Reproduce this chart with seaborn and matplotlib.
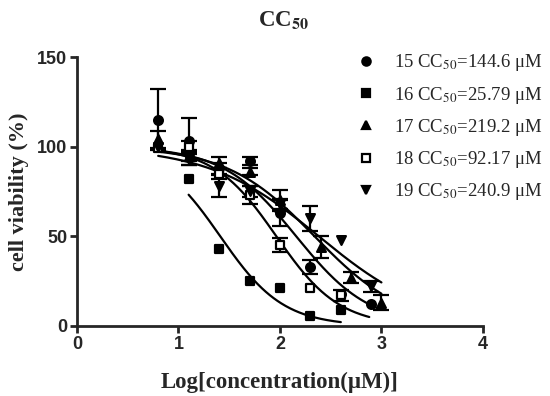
import numpy as np
import pandas as pd
import matplotlib
matplotlib.use("Agg")
import matplotlib.pyplot as plt
import seaborn as sns
from matplotlib.lines import Line2D

# compounds and their CC50 values (uM)
compounds = ['15', '16', '17', '18', '19']
cc50 = [144.6, 25.79, 219.2, 92.17, 240.9]
hill = [1.2, 1.4, 1.0, 1.4, 0.8]
curve_end = [3.0, 2.6, 3.0, 2.88, 3.0]
curve_start = [0.8, 1.1, 0.8, 0.8, 0.8]

# measured points (log conc, viability %, sem; 0 = bar hidden by marker)
x15 = [0.8, 1.1, 1.4, 1.7, 2.0, 2.3, 2.6, 2.9]
y15 = [115, 103, 88, 92, 63, 33, 18, 12.5]
e15 = [17, 13, 3, 2, 7, 4, 0, 0]

x16 = [1.1, 1.4, 1.7, 2.0, 2.3, 2.6]
y16 = [82, 43, 25, 21, 5.5, 9]
e16 = [0, 0, 0, 0, 0, 0]

x17 = [0.8, 1.1, 1.4, 1.7, 2.0, 2.4, 2.7, 3.0]
y17 = [104, 95, 91, 86, 70, 44, 27, 13]
e17 = [5, 3, 3, 2, 6, 6, 3, 4]

x18 = [0.8, 1.1, 1.4, 1.7, 2.0, 2.3, 2.6]
y18 = [99, 100, 85, 73, 45, 21, 17]
e18 = [0, 3, 3, 5, 4, 0, 3]

x19 = [0.8, 1.1, 1.4, 1.7, 2.0, 2.3, 2.6, 2.9]
y19 = [100, 93, 78, 75, 68, 60, 48, 22]
e19 = [0, 3, 6, 3, 3, 7, 0, 3]

xs = [x15, x16, x17, x18, x19]
ys = [y15, y16, y17, y18, y19]
es = [e15, e16, e17, e18, e19]
markers = {'15': 'o', '16': 's', '17': '^', '18': 's', '19': 'v'}
facecol = {'15': 'black', '16': 'black', '17': 'black', '18': 'white', '19': 'black'}

sns.set_style("ticks")
plt.rcParams['mathtext.fontset'] = 'stix'

pts = pd.concat([pd.DataFrame({'compound': c, 'logc': x, 'viab': y, 'err': e})
                 for c, x, y, e in zip(compounds, xs, ys, es)], ignore_index=True)

curves = []
for c, ic, h, a, b in zip(compounds, cc50, hill, curve_start, curve_end):
    xx = np.linspace(a, b, 200)
    yy = 100 / (1 + 10 ** ((xx - np.log10(ic)) * h))
    curves.append(pd.DataFrame({'compound': c, 'logc': xx, 'viab': yy}))
curves = pd.concat(curves, ignore_index=True)

fig = plt.figure(figsize=(5.5, 3.96), dpi=100)
ax = fig.add_axes([0.14, 0.177, 0.738, 0.679])

sns.lineplot(data=curves, x='logc', y='viab', units='compound', estimator=None,
             color='black', lw=1.6, ax=ax, legend=False)

for c in compounds:
    d = pts[pts.compound == c]
    de = d[d.err > 0]
    if len(de):
        ax.errorbar(de.logc, de.viab, yerr=de.err, fmt='none', ecolor='black',
                    elinewidth=1.6, capsize=5.5, capthick=1.6, zorder=3)
    ax.scatter(d.logc, d.viab, marker=markers[c], s=40, facecolor=facecol[c],
               edgecolor='black', linewidth=1.6, zorder=4)

ax.set_xlim(0, 4)
ax.set_ylim(0, 150)
ax.set_xticks([0, 1, 2, 3, 4])
ax.set_yticks([0, 50, 100, 150])
for s in ['left', 'bottom']:
    ax.spines[s].set_linewidth(2)
sns.despine(ax=ax)
ax.tick_params(width=2, length=5, labelsize=13, pad=2)
for lab in ax.get_xticklabels() + ax.get_yticklabels():
    lab.set_fontfamily('Liberation Sans')
    lab.set_fontweight('bold')

ax.set_xlabel('Log[concentration(μM)]', family='Liberation Serif', weight='bold',
              fontsize=16.5, labelpad=14)
ax.set_ylabel('cell viability (%)', family='Liberation Serif', weight='bold',
              fontsize=16, labelpad=6)
fig.text(0.515, 0.95, r'CC$_{\mathbf{50}}$', family='Liberation Serif', weight='bold',
         fontsize=16.5, ha='center', va='center')

handles = [Line2D([], [], ls='none', marker=markers[c], markersize=6,
                  markerfacecolor=facecol[c], markeredgecolor='black', markeredgewidth=1.6)
           for c in compounds]
labels = [f'{c} CC$_{{50}}$={v} μM' for c, v in zip(compounds, cc50)]
leg = ax.legend(handles, labels, loc='upper left', bbox_to_anchor=(0.647, 1.045),
                frameon=False, prop={'family': 'Liberation Serif', 'size': 13.5},
                labelspacing=0.6, handletextpad=0.5, borderaxespad=0)

fig.savefig('out.png', dpi=100)
